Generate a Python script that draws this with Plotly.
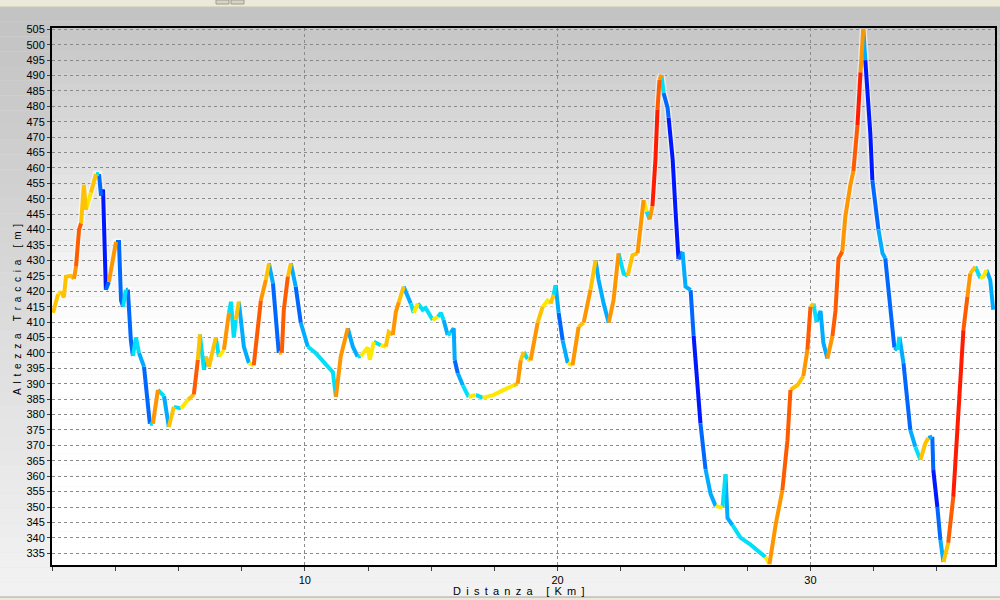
import numpy as np
import plotly.graph_objects as go

# ---------------- data ----------------
distance_km = [
    0.04, 0.24, 0.36, 0.47, 0.55, 0.75, 0.87, 0.95, 1.07, 1.15, 1.26, 1.34, 1.54, 1.74, 1.86, 1.94,
    2.02, 2.06, 2.13, 2.25, 2.53, 2.65, 2.73, 2.81, 2.92, 3.00, 3.12, 3.20, 3.32, 3.44, 3.64, 3.79,
    3.87, 3.99, 4.19, 4.43, 4.62, 4.82, 5.10, 5.38, 5.61, 5.77, 5.85, 6.01, 6.09, 6.21, 6.48, 6.60,
    6.80, 7.00, 7.08, 7.19, 7.27, 7.39, 7.59, 7.79, 7.98, 8.26, 8.46, 8.58, 8.74, 8.85, 8.97, 9.09,
    9.17, 9.33, 9.45, 9.64, 9.84, 10.12, 10.43, 10.75, 11.11, 11.23, 11.42, 11.70, 11.90, 12.09,
    12.21, 12.49, 12.57, 12.73, 13.00, 13.20, 13.32, 13.48, 13.60, 13.72, 13.91, 14.19, 14.31,
    14.47, 14.66, 14.78, 15.06, 15.26, 15.38, 15.49, 15.65, 15.77, 15.89, 15.93, 16.05, 16.25,
    16.48, 16.76, 17.04, 17.23, 17.47, 17.87, 18.26, 18.42, 18.54, 18.66, 18.81, 18.93, 19.21,
    19.41, 19.60, 19.72, 19.84, 19.92, 20.04, 20.20, 20.40, 20.59, 20.83, 21.03, 21.30, 21.50,
    21.62, 21.82, 22.02, 22.21, 22.41, 22.61, 22.77, 22.96, 23.16, 23.28, 23.40, 23.52, 23.64,
    23.75, 23.87, 23.95, 24.03, 24.11, 24.19, 24.35, 24.39, 24.55, 24.66, 24.78, 24.94, 25.06,
    25.26, 25.38, 25.53, 25.65, 25.85, 26.05, 26.25, 26.52, 26.64, 26.72, 26.92, 27.23, 27.63,
    27.94, 28.22, 28.38, 28.62, 28.89, 29.09, 29.21, 29.49, 29.72, 29.88, 30.00, 30.12, 30.24,
    30.40, 30.51, 30.67, 30.87, 30.99, 31.11, 31.26, 31.38, 31.58, 31.70, 31.86, 31.98, 32.09,
    32.17, 32.25, 32.29, 32.37, 32.45, 32.69, 32.85, 32.96, 33.08, 33.24, 33.32, 33.44, 33.52,
    33.68, 33.83, 33.95, 34.15, 34.35, 34.55, 34.66, 34.82, 34.86, 35.02, 35.14, 35.26, 35.45,
    35.65, 35.81, 35.93, 36.05, 36.21, 36.32, 36.52, 36.72, 36.84, 36.96, 37.11, 37.23,
]
elevation_m = [
    413, 419, 420, 418, 424.7, 425, 424, 428, 440, 442, 454.5, 446.4, 452, 458, 458, 451,
    453, 441, 420.5, 423, 436, 436, 417, 415, 420.5, 420.5, 404, 399, 405, 400, 395.5, 382.5,
    377, 377, 388, 386, 376, 382.5, 382, 384.8, 386.5, 397.8, 406, 394.5, 398.8, 395.5, 405, 398.8,
    401, 413, 416.6, 405, 410.7, 416.6, 402, 396.7, 396, 417, 423.7, 429, 422.6, 413, 400, 400,
    414, 424.8, 429, 421.5, 409.8, 402, 400, 397, 393.8, 385.7, 398.8, 408, 402, 398.8,
    399, 401.7, 397.8, 403.6, 402.5, 402, 406.8, 405.8, 413.3, 416.5, 421.5, 416, 413,
    416, 414, 414.6, 410.7, 411.7, 413, 410.7, 405.8, 406.5, 408, 397.6, 393.4, 389.5,
    385.7, 386.4, 385.4, 385.7, 386.4, 388, 389.5, 390, 397.6, 400.3, 398, 397.6, 409.8,
    415, 417, 416, 418.8, 422, 413, 404, 396.7, 396, 408.5, 409.8, 420.5, 430,
    423.7, 416, 409.8, 417, 432.3, 425.8, 425, 431.7, 432.3, 440, 449.6, 445.9, 443.3,
    447.6, 462.8, 478.9, 488.6, 490.2, 484.3, 479.5, 476.3, 462.8, 446.6, 430.4, 432.8, 421.5,
    420.4, 405.5, 388.5, 377.1, 362.3, 354.3, 350.3, 349.8, 360.6, 346.4, 344.1, 340.1, 337.8,
    335.5, 333.8, 331.5, 344.1, 355.5, 371.6, 388, 389.6, 392.5, 401, 414.9, 416, 410.1,
    413.6, 403.3, 398.2, 405.5, 413.6, 430.6, 432.9, 444.3, 454.5, 459, 473.9, 491, 505,
    495, 486, 477.8, 471, 456, 440, 432.3, 430.7, 421.5, 409.8, 401.7, 401, 405.2,
    396.7, 385.7, 375, 369.5, 365.3, 370.8, 372.4, 372.8, 362, 350, 339.3, 332.2, 338.4,
    353.3, 375, 394.5, 407.4, 418.3, 425.8, 428, 424.2, 424.7, 426.9, 423.7, 414,
]

x_tick_values = [0, 10, 20, 30]
x_tick_labels = ["", "10", "20", "30"]
x_minor_ticks = [2.5, 5, 7.5, 12.5, 15, 17.5, 22.5, 25, 27.5, 32.5, 35]
y_tick_values = list(range(335, 506, 5))
x_title = "Distanza [Km]"
y_title = "Altezza Traccia [m]"

# slope classes (grade %, upper bounds) and colours
grade_edges = [-9, -4.5, -1.5, 0, 1, 3, 6, 10]
grade_colors = ['#0018ff', '#0068ff', '#00acff', '#00def8', '#ffe800',
                '#ffc200', '#ff9600', '#ff5c00', '#ff1c00']

# ---------------- build coloured segments ----------------
d = np.array(distance_km, dtype=float)
e = np.array(elevation_m, dtype=float)
half_win = 0.15
mids = (d[:-1] + d[1:]) / 2
grades = (np.interp(mids + half_win, d, e) - np.interp(mids - half_win, d, e)) / (2 * half_win * 1000) * 100
classes = np.digitize(grades, grade_edges)

runs_x = {k: [] for k in range(len(grade_colors))}
runs_y = {k: [] for k in range(len(grade_colors))}
i = 0
n = len(classes)
while i < n:
    k = classes[i]
    j = i
    while j + 1 < n and classes[j + 1] == k:
        j += 1
    runs_x[k].extend(list(d[i:j + 2]) + [None])
    runs_y[k].extend(list(e[i:j + 2]) + [None])
    i = j + 1

fig = go.Figure()
fig.add_trace(go.Scatter(x=d, y=e, mode='lines', hoverinfo='skip',
                         line=dict(color='rgba(255,255,255,0.55)', width=7)))
for k, col in enumerate(grade_colors):
    if runs_x[k]:
        fig.add_trace(go.Scatter(x=runs_x[k], y=runs_y[k], mode='lines',
                                 line=dict(color=col, width=4), connectgaps=False,
                                 name=f'class {k}'))

# ---------------- background gradients ----------------
W, H = 1000, 600
ML, MR, MT, MB = 52, 5, 28, 35
PW, PH = W - ML - MR, H - MT - MB


def px2x(px):
    return (px - ML) / PW


def py2y(py):
    return (H - MB - py) / PH


def gray(v):
    v = int(round(max(0, min(255, v))))
    return f'rgb({v},{v},{v})'


def spaced(text):
    # letter-spaced title, as in the original chart
    out = []
    for ch in text:
        if ch == ' ':
            out.append('\u00a0\u00a0\u2009')
        else:
            out.append(ch + '\u00a0\u2009')
    return ''.join(out).rstrip('\u00a0\u2009')


shapes = []
nb = 40
for b in range(nb):
    y0p = 7 + (597 - 7) * b / nb
    y1p = 7 + (597 - 7) * (b + 1) / nb
    t = (b + 0.5) / nb
    shapes.append(dict(type='rect', xref='paper', yref='paper', layer='below',
                       x0=px2x(0), x1=px2x(W), y0=py2y(y1p), y1=py2y(y0p),
                       fillcolor=gray(194 + (243 - 194) * t), line=dict(width=0)))
shapes.append(dict(type='rect', xref='paper', yref='paper', layer='below',
                   x0=px2x(0), x1=px2x(W), y0=py2y(7), y1=py2y(0),
                   fillcolor='#ece9d8', line=dict(width=0)))
shapes.append(dict(type='line', xref='paper', yref='paper', layer='below',
                   x0=px2x(0), x1=px2x(W), y0=py2y(7), y1=py2y(7),
                   line=dict(color='#c9c5b4', width=1)))
for bx in (216, 231):
    shapes.append(dict(type='rect', xref='paper', yref='paper', layer='below',
                       x0=px2x(bx), x1=px2x(bx + 13), y0=py2y(4), y1=py2y(0),
                       fillcolor='#d8d4c4', line=dict(color='#a09c8c', width=1)))
shapes.append(dict(type='rect', xref='paper', yref='paper', layer='below',
                   x0=px2x(0), x1=px2x(W), y0=py2y(W), y1=py2y(597),
                   fillcolor='#ece9d8', line=dict(width=0)))
shapes.append(dict(type='line', xref='paper', yref='paper', layer='below',
                   x0=px2x(0), x1=px2x(W), y0=py2y(597), y1=py2y(597),
                   line=dict(color='#a8a8a0', width=1)))
nb2 = 48
top, bottom = MT, H - MB
for b in range(nb2):
    y0p = top + (bottom - top) * b / nb2
    y1p = top + (bottom - top) * (b + 1) / nb2
    mid = (y0p + y1p) / 2
    t = min(1.0, (mid - top) / 300)
    shapes.append(dict(type='rect', xref='paper', yref='paper', layer='below',
                       x0=0, x1=1, y0=py2y(y1p), y1=py2y(y0p),
                       fillcolor=gray(198 + (255 - 198) * t), line=dict(width=0)))

font_family = 'Liberation Sans, Arial, sans-serif'

annotations = [
    dict(text=spaced(x_title), xref='paper', yref='paper',
         x=px2x(519), y=py2y(591), xanchor='center', yanchor='middle', showarrow=False,
         font=dict(family=font_family, size=11, color='#000000')),
    dict(text=spaced(y_title), xref='paper', yref='paper',
         x=px2x(17), y=py2y(310), xanchor='center', yanchor='middle', showarrow=False,
         textangle=-90, font=dict(family=font_family, size=10, color='#000000')),
]

fig.update_layout(
    width=W, height=H,
    margin=dict(l=ML, r=MR, t=MT, b=MB, autoexpand=False),
    paper_bgcolor='#e0e0e0',
    plot_bgcolor='rgba(0,0,0,0)',
    showlegend=False,
    shapes=shapes,
    annotations=annotations,
    font=dict(family=font_family, size=11, color='#000000'),
    hovermode=False,
)

fig.update_xaxes(
    range=[0, 37.3], tickmode='array', tickvals=x_tick_values, ticktext=x_tick_labels,
    ticks='outside', ticklen=4, tickwidth=1, tickcolor='#404040',
    tickfont=dict(size=11, color='#000000'), automargin=False,
    showgrid=True, gridcolor='#8a8a8a', gridwidth=1, griddash='3px,3px',
    showline=True, linecolor='#000000', linewidth=2, mirror=True, zeroline=False,
    minor=dict(tickmode='array', tickvals=x_minor_ticks, ticks='outside', ticklen=4,
               tickcolor='#404040', showgrid=False),
)
fig.update_yaxes(
    range=[331.2, 505.4], tickmode='array', tickvals=y_tick_values,
    ticks='outside', ticklen=3, tickwidth=1, tickcolor='#404040',
    tickfont=dict(size=11, color='#000000'), automargin=False,
    showgrid=True, gridcolor='#8a8a8a', gridwidth=1, griddash='3px,3px',
    showline=True, linecolor='#000000', linewidth=2, mirror=True, zeroline=False,
)

fig.write_html('out.html', config={'displayModeBar': False},
               post_script="document.body.style.margin='0';document.body.style.padding='0';"
                           "document.body.style.overflow='hidden';")
